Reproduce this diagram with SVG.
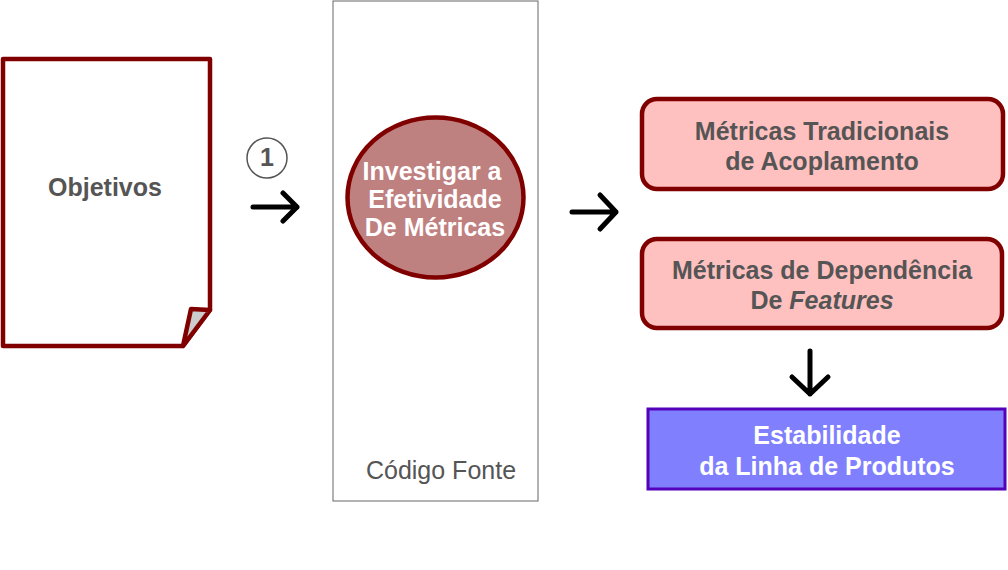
<svg xmlns="http://www.w3.org/2000/svg" width="1008" height="570" viewBox="0 0 1008 570">
<style>
.t{font-family:"Liberation Sans",Arial,sans-serif;font-weight:bold;font-size:25px;text-anchor:middle;fill:#555555}
.w{fill:#ffffff}
.red{stroke:#800000;stroke-width:4.5;stroke-linejoin:round}
.arr{fill:none;stroke:#000;stroke-width:5;stroke-linecap:round;stroke-linejoin:round}
</style>
<rect width="1008" height="570" fill="#ffffff"/>
<g id="objetivos">
<path class="red" d="M3,59 H210 V310 L183,346 H3 Z" fill="#ffffff"/>
<path class="red" d="M210,310 L191,309 L183,346 Z" fill="#cccccc" stroke-width="4"/>
<text class="t" x="105" y="196">Objetivos</text>
</g>
<g id="step1">
<circle cx="267" cy="158" r="20" fill="#ffffff" stroke="#555555" stroke-width="1.5"/>
<text class="t" x="267" y="166" font-size="23">1</text>
</g>
<g id="codigo-fonte">
<rect x="333" y="1" width="205" height="500" fill="#ffffff" stroke="#666666" stroke-width="1"/>
<text class="t" x="441" y="479" style="font-weight:normal">Código Fonte</text>
</g>
<g id="investigar">
<ellipse class="red" cx="435.5" cy="197.5" rx="88" ry="80" fill="#bf8080"/>
<text class="t w" x="432" y="180" font-size="22">Investigar a</text>
<text class="t w" x="435" y="208" font-size="22">Efetividade</text>
<text class="t w" x="435" y="236" font-size="22">De Métricas</text>
</g>
<g id="tradicionais">
<rect class="red" x="642" y="99" width="361" height="90" rx="15" fill="#ffc0c0"/>
<text class="t" x="822" y="140">Métricas Tradicionais</text>
<text class="t" x="822" y="170">de Acoplamento</text>
</g>
<g id="dependencia">
<rect class="red" x="642" y="239" width="360" height="89" rx="15" fill="#ffc0c0"/>
<text class="t" x="822" y="279">Métricas de Dependência</text>
<text class="t" x="822" y="309">De <tspan font-style="italic">Features</tspan></text>
</g>
<g id="estabilidade">
<rect x="648" y="409" width="357" height="80" fill="#8080ff" stroke="#5500bb" stroke-width="3"/>
<text class="t w" x="827" y="444">Estabilidade</text>
<text class="t w" x="827" y="475">da Linha de Produtos</text>
</g>
<g id="connectors">
<path class="arr" d="M253,207 H297 M283,193 L297,207 L283,221"/>
<path class="arr" d="M572,212 H616 M600,195 L616,212 L600,229"/>
<path class="arr" d="M810,351 V394 M792,377 L810,394 L828,377"/>
</g>
</svg>
